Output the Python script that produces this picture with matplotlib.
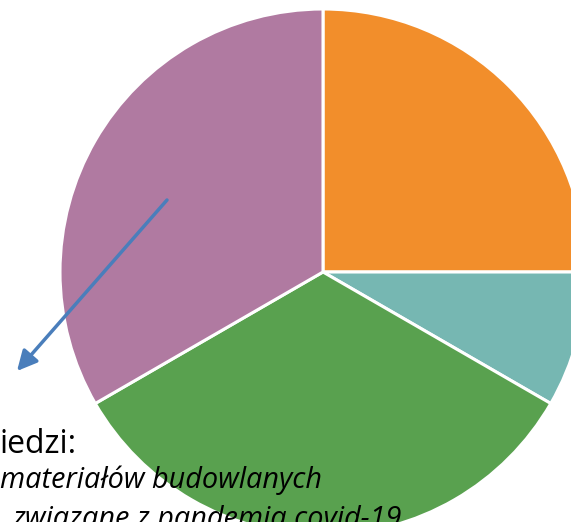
import matplotlib.pyplot as plt

# udział odpowiedzi (kolejność zgodnie z ruchem wskazówek zegara od góry)
wartosci = [3, 1, 4, 4]
kolory = ["#F28E2B", "#76B7B2", "#59A14F", "#B07AA1"]

linia1 = "iedzi:"
linia2 = "materiałów budowlanych"
linia3 = "związane z pandemią covid-19"

W, H = 571, 522
fig = plt.figure(figsize=(W / 100, H / 100), dpi=100)
ax = fig.add_axes([0, 0, 1, 1])

ax.pie(wartosci, colors=kolory, startangle=90, counterclock=False,
       center=(323, H - 272), radius=263, frame=True,
       wedgeprops=dict(edgecolor="white", linewidth=2.2))
ax.set_xlim(0, W)
ax.set_ylim(0, H)
ax.set_aspect("equal")
ax.axis("off")

ax.annotate("", xy=(17, H - 371), xytext=(167, H - 200),
            arrowprops=dict(arrowstyle="-|>", color="#4A7EBB", lw=2.5,
                            mutation_scale=30, shrinkA=0, shrinkB=0))

ax.text(0, H - 453, linia1, ha="left", va="baseline", fontsize=23,
        family="Open Sans", color="black")
ax.text(0, H - 488, linia2, ha="left", va="baseline", fontsize=20.8,
        family="Open Sans", style="italic", color="black")
ax.text(12, H - 527, linia3, ha="left", va="baseline", fontsize=20.8,
        family="Open Sans", style="italic", color="black")

fig.savefig("out.png", dpi=100)
